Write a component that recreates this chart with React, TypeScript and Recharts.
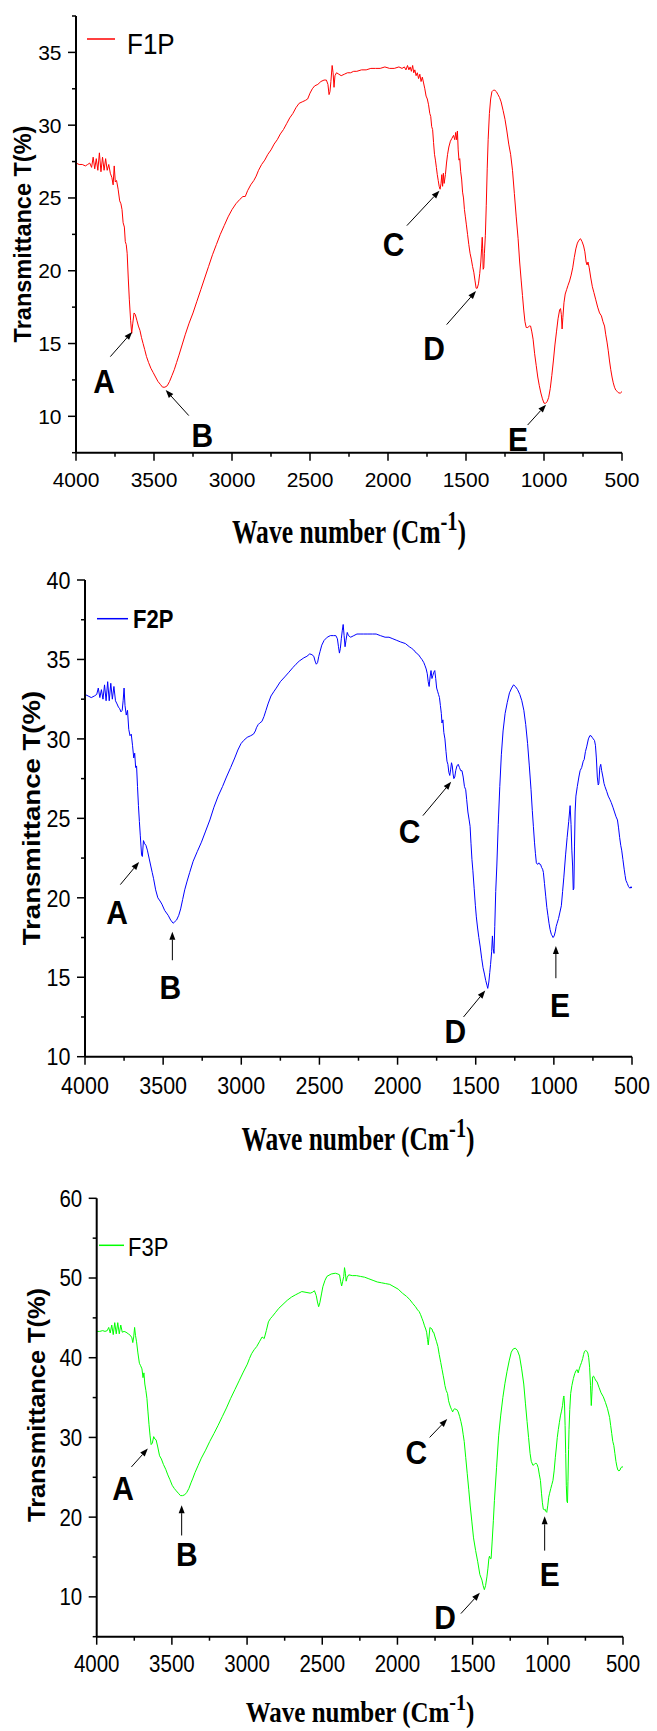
import { LineChart, Line, XAxis, YAxis, Legend, ReferenceLine, ReferenceDot } from 'recharts';

const SANS = '"Liberation Sans", Arial, sans-serif';
const SERIF = '"Liberation Serif", "Times New Roman", serif';

// wave number ticks (major every 500, minor in between)
const waveTicks = [500, 750, 1000, 1250, 1500, 1750, 2000, 2250, 2500, 2750, 3000, 3250, 3500, 3750, 4000];

const f1pTicks = [7.5, 10, 12.5, 15, 17.5, 20, 22.5, 25, 27.5, 30, 32.5, 35, 37.5];
const f2pTicks = [10, 12.5, 15, 17.5, 20, 22.5, 25, 27.5, 30, 32.5, 35, 37.5, 40];
const f3pTicks = [5, 10, 15, 20, 25, 30, 35, 40, 45, 50, 55, 60];

const peakLetters = ['A', 'B', 'C', 'D', 'E'];

// [wave number, transmittance]
const f1pPoints = [
  [4000, 27.4], [3980, 27.3], [3960, 27.3], [3940, 27.2], [3925, 27.3], [3912, 27.4], [3900, 27.1],
  [3890, 27.8], [3880, 27.0], [3870, 27.7], [3860, 26.9], [3850, 28.1], [3840, 26.8], [3830, 27.8],
  [3820, 26.9], [3810, 27.7], [3800, 26.9], [3790, 27.3], [3780, 26.7], [3770, 26.4], [3762, 25.9],
  [3755, 27.2], [3748, 26.1], [3740, 26.2], [3730, 25.6], [3720, 24.8],
  [3712, 24.6], [3705, 24.2], [3698, 23.3], [3690, 23.0], [3684, 22.0], [3678, 21.8], [3672, 21.2],
  [3665, 19.5], [3658, 18.0], [3650, 16.6], [3643, 15.7], [3636, 16.4], [3628, 17.1], [3620, 17.0],
  [3610, 16.6], [3600, 16.2], [3590, 15.9], [3580, 15.4], [3570, 15.0], [3560, 14.6], [3548, 14.1],
  [3535, 13.7], [3520, 13.3], [3505, 13.0], [3490, 12.7], [3475, 12.4], [3460, 12.2], [3445, 12.0],
  [3430, 12.0], [3415, 12.1], [3400, 12.4], [3385, 12.8], [3370, 13.2], [3355, 13.7], [3340, 14.2],
  [3320, 14.9], [3300, 15.6], [3275, 16.4], [3250, 17.1], [3225, 17.9], [3200, 18.7], [3175, 19.5],
  [3150, 20.3], [3125, 21.1], [3100, 21.8], [3075, 22.5], [3050, 23.1], [3025, 23.7], [3000, 24.2],
  [2975, 24.6], [2950, 24.9], [2930, 25.1], [2915, 25.1], [2900, 25.5], [2880, 25.9], [2860, 26.2],
  [2845, 26.5], [2830, 26.9], [2810, 27.3], [2790, 27.6], [2770, 28.0], [2750, 28.3], [2730, 28.7],
  [2710, 29.0], [2690, 29.4], [2670, 29.7], [2650, 30.1], [2630, 30.5], [2610, 30.8], [2590, 31.2],
  [2570, 31.5], [2550, 31.6], [2530, 31.7], [2515, 31.8], [2500, 32.2], [2485, 32.5], [2470, 32.7],
  [2450, 32.8], [2430, 33.0], [2410, 33.1], [2395, 33.1], [2385, 32.8], [2378, 32.1], [2372, 32.3],
  [2366, 33.0], [2358, 34.1], [2352, 33.6], [2346, 32.6], [2340, 33.4], [2330, 33.6], [2315, 33.5],
  [2300, 33.4], [2280, 33.5], [2260, 33.6], [2240, 33.6], [2220, 33.7], [2200, 33.7], [2170, 33.8],
  [2140, 33.8], [2110, 33.9], [2080, 33.9], [2050, 33.9], [2020, 34.0], [1990, 33.9], [1960, 33.9],
  [1930, 34.0], [1910, 33.9], [1895, 34.0], [1885, 33.8], [1875, 34.1], [1866, 33.8], [1858, 34.0],
  [1850, 33.7], [1842, 34.1], [1835, 33.6], [1828, 33.8], [1820, 33.4], [1812, 33.6], [1804, 33.2],
  [1796, 33.5], [1788, 33.0], [1780, 33.3], [1772, 32.9], [1764, 32.5], [1756, 32.0], [1748, 31.8],
  [1740, 31.4], [1732, 30.8], [1726, 30.6], [1720, 29.9], [1714, 29.7], [1708, 28.8], [1702, 28.0],
  [1696, 27.6], [1690, 27.1], [1684, 26.6], [1678, 26.2], [1672, 25.8], [1666, 25.6], [1660, 26.0],
  [1655, 26.6], [1650, 25.8], [1645, 26.7], [1640, 26.0], [1632, 26.6], [1625, 27.4], [1618, 28.0],
  [1610, 28.5], [1600, 28.9], [1590, 29.1], [1580, 29.3], [1572, 29.0], [1566, 29.5], [1560, 29.0],
  [1555, 29.6], [1550, 28.3], [1545, 27.6], [1540, 27.7], [1534, 26.8], [1528, 26.3], [1522, 25.4],
  [1516, 25.0], [1510, 24.2], [1504, 23.7], [1498, 23.2], [1490, 22.5], [1482, 21.8], [1474, 21.2],
  [1466, 20.8], [1458, 20.3], [1450, 19.9], [1442, 19.3], [1435, 18.8], [1428, 18.8], [1420, 19.1],
  [1412, 19.8], [1405, 20.6], [1400, 21.5], [1396, 22.3], [1393, 21.5], [1390, 20.1], [1386, 20.2],
  [1382, 21.2], [1376, 22.4], [1370, 24.5], [1364, 27.0], [1358, 29.0], [1350, 30.8], [1342, 31.8],
  [1334, 32.3], [1325, 32.4], [1315, 32.4], [1305, 32.3], [1295, 32.1], [1285, 31.9], [1275, 31.6],
  [1262, 31.0], [1250, 30.4], [1238, 29.6], [1226, 28.7], [1214, 28.0], [1202, 26.9], [1190, 25.3],
  [1178, 23.7], [1166, 22.2], [1156, 20.6], [1146, 19.3], [1138, 18.3], [1130, 17.3], [1122, 16.5],
  [1114, 16.1], [1104, 16.1], [1094, 16.2], [1086, 16.2], [1078, 15.8], [1070, 15.3], [1060, 14.3],
  [1050, 13.5], [1040, 12.7], [1030, 12.1], [1020, 11.6], [1010, 11.2], [1000, 10.9], [990, 10.9],
  [980, 11.0], [970, 11.3], [960, 11.9], [950, 12.8], [940, 13.8], [930, 14.9], [920, 15.8],
  [910, 16.7], [900, 17.3], [894, 17.4], [889, 17.0], [884, 16.0], [879, 16.8], [872, 17.8],
  [864, 18.4], [855, 18.7], [846, 19.0], [836, 19.3], [826, 19.7], [816, 20.2], [806, 20.9],
  [796, 21.5], [786, 21.9], [776, 22.1], [766, 22.2], [756, 22.0], [746, 21.7], [738, 21.3],
  [730, 20.6], [724, 20.4], [718, 20.6], [710, 20.2], [700, 19.5], [690, 18.9], [680, 18.5],
  [668, 18.0], [656, 17.5], [644, 17.1], [632, 16.9], [622, 16.5], [612, 16.2], [604, 15.6],
  [596, 15.1], [588, 14.5], [580, 13.8], [572, 13.2], [564, 12.7], [556, 12.3], [548, 12.0],
  [540, 11.8], [530, 11.7], [520, 11.6], [510, 11.6], [500, 11.7],
];

const f2pPoints = [
  [4000, 32.8], [3980, 32.7], [3960, 32.6], [3940, 32.7], [3925, 32.8], [3915, 33.2], [3905, 32.6],
  [3895, 33.1], [3885, 32.5], [3875, 33.4], [3865, 32.4], [3855, 33.6], [3845, 32.4], [3835, 33.5],
  [3825, 32.5], [3815, 33.3], [3805, 32.4], [3795, 32.2], [3786, 32.0], [3778, 31.9], [3770, 31.7],
  [3762, 31.8], [3756, 32.4], [3750, 33.2], [3744, 32.1], [3736, 31.5], [3728, 31.8], [3720, 30.6],
  [3712, 30.2], [3704, 30.3], [3696, 29.6], [3688, 28.8], [3682, 29.1], [3676, 28.2], [3670, 28.3],
  [3664, 27.0], [3658, 25.8], [3652, 24.8], [3646, 23.9], [3638, 22.7], [3633, 22.6], [3626, 23.6],
  [3618, 23.4], [3610, 23.3], [3601, 23.0], [3590, 22.5], [3579, 22.0], [3570, 21.6], [3561, 21.2],
  [3548, 20.5], [3534, 20.0], [3520, 19.8], [3508, 19.6], [3490, 19.2], [3468, 18.9], [3452, 18.6],
  [3436, 18.4], [3425, 18.5], [3414, 18.6], [3400, 18.9], [3388, 19.3], [3375, 19.9], [3362, 20.5],
  [3348, 21.0], [3330, 21.6], [3308, 22.3], [3282, 22.9], [3255, 23.5], [3228, 24.2], [3201, 24.9],
  [3175, 25.7], [3148, 26.4], [3120, 27.0], [3095, 27.6], [3068, 28.2], [3042, 28.8], [3022, 29.3],
  [3002, 29.7], [2985, 29.9], [2962, 30.1], [2940, 30.2], [2922, 30.3], [2910, 30.5], [2903, 30.7],
  [2892, 30.9], [2882, 31.0], [2868, 31.1], [2855, 31.4], [2842, 31.8], [2829, 32.2], [2810, 32.7],
  [2790, 33.0], [2776, 33.2], [2750, 33.6], [2722, 33.9], [2695, 34.2], [2669, 34.5], [2650, 34.7],
  [2629, 34.9], [2600, 35.1], [2580, 35.2], [2562, 35.35], [2548, 35.3], [2536, 35.2], [2528, 34.9],
  [2520, 34.7], [2512, 34.8], [2504, 35.2], [2496, 35.5], [2485, 35.9], [2470, 36.2], [2450, 36.4],
  [2430, 36.5], [2410, 36.5], [2395, 36.5], [2385, 36.3], [2378, 35.8], [2372, 35.4], [2366, 35.7],
  [2360, 36.3], [2354, 36.8], [2348, 37.2], [2342, 36.5], [2336, 35.8], [2330, 36.2], [2322, 36.7],
  [2314, 36.5], [2300, 36.4], [2280, 36.5], [2260, 36.6], [2240, 36.6], [2217, 36.6], [2190, 36.6],
  [2160, 36.6], [2137, 36.6], [2110, 36.5], [2080, 36.4], [2055, 36.4], [2030, 36.3], [2005, 36.2],
  [1980, 36.1], [1950, 36.0], [1925, 35.8], [1910, 35.7], [1897, 35.6], [1880, 35.4], [1866, 35.3],
  [1852, 35.1], [1844, 35.0], [1832, 34.8], [1824, 34.6], [1817, 34.4], [1810, 34.1], [1804, 33.6],
  [1798, 33.3], [1792, 33.9], [1786, 34.3], [1780, 33.8], [1774, 34.0], [1768, 34.2], [1762, 34.3],
  [1756, 33.8], [1750, 33.2], [1744, 33.0], [1738, 32.8], [1732, 32.6], [1726, 32.1], [1720, 31.6],
  [1716, 31.0], [1710, 31.2], [1704, 30.4], [1697, 30.0], [1690, 29.2], [1684, 28.6], [1678, 28.4],
  [1672, 27.9], [1666, 27.7], [1660, 28.1], [1655, 28.5], [1650, 28.3], [1645, 27.8], [1640, 27.5],
  [1634, 27.6], [1628, 28.0], [1620, 28.3], [1612, 28.4], [1604, 28.2], [1596, 28.0], [1588, 28.0],
  [1580, 27.6], [1572, 27.0], [1564, 26.8], [1558, 26.2], [1550, 25.4], [1542, 24.9], [1536, 24.5],
  [1530, 23.4], [1524, 22.4], [1518, 21.7], [1510, 20.6], [1502, 19.5], [1496, 18.8], [1488, 18.1],
  [1480, 17.5], [1471, 16.9], [1462, 16.2], [1453, 15.6], [1444, 15.2], [1436, 14.8], [1428, 14.5],
  [1423, 14.3], [1416, 14.7], [1410, 15.3], [1405, 15.8], [1398, 16.6], [1393, 17.6], [1388, 16.8],
  [1383, 16.5], [1378, 18.2], [1372, 20.4], [1365, 22.0], [1356, 24.6], [1346, 27.0], [1336, 29.0],
  [1325, 30.5], [1312, 31.6], [1298, 32.3], [1284, 32.9], [1270, 33.2], [1258, 33.4], [1246, 33.3],
  [1232, 33.1], [1218, 32.8], [1205, 32.4], [1192, 31.8], [1180, 30.9], [1168, 29.7], [1157, 28.3],
  [1146, 26.8], [1138, 25.5], [1131, 24.5], [1124, 23.5], [1118, 22.8], [1112, 22.2], [1104, 22.1],
  [1096, 22.2], [1090, 22.1], [1085, 22.1], [1078, 21.9], [1072, 21.8], [1067, 21.6], [1060, 20.9],
  [1052, 20.1], [1045, 19.4], [1038, 18.9], [1031, 18.4], [1024, 18.0], [1016, 17.7], [1010, 17.6],
  [1005, 17.5], [998, 17.6], [990, 17.9], [985, 18.2], [979, 18.4], [970, 18.7], [961, 19.1],
  [952, 19.5], [944, 20.4], [936, 21.3], [925, 22.7], [915, 23.8], [905, 24.8], [896, 25.8],
  [890, 24.6], [885, 23.0], [880, 22.0], [876, 20.5], [872, 20.6], [868, 23.2], [864, 25.4],
  [859, 26.4], [850, 27.0], [840, 27.6], [832, 28.0], [822, 28.2], [812, 28.6], [806, 28.7],
  [798, 29.2], [790, 29.5], [779, 30.0], [770, 30.2], [762, 30.2], [755, 30.1], [748, 30.0],
  [740, 29.9], [734, 29.6], [728, 28.8], [722, 27.6], [716, 27.1], [712, 27.2], [706, 28.2],
  [700, 28.4], [694, 28.0], [686, 27.6], [679, 27.2], [673, 27.0], [662, 26.7], [652, 26.4],
  [642, 26.2], [633, 26.0], [622, 25.7], [612, 25.4], [602, 25.1], [593, 24.9], [586, 24.4],
  [579, 23.8], [572, 23.3], [566, 23.0], [558, 22.4], [550, 21.8], [544, 21.4], [539, 21.1],
  [530, 20.9], [522, 20.7], [513, 20.6], [506, 20.7], [500, 20.6],
];

const f3pPoints = [
  [4000, 43.3], [3980, 43.3], [3960, 43.4], [3945, 43.3], [3930, 43.4], [3920, 43.8], [3910, 43.1],
  [3900, 44.1], [3890, 42.9], [3880, 44.4], [3870, 43.0], [3860, 44.4], [3850, 43.0], [3840, 44.1],
  [3830, 43.2], [3818, 43.3], [3805, 43.2], [3790, 43.0], [3776, 42.8], [3766, 42.5], [3760, 41.9],
  [3754, 42.6], [3748, 43.8], [3742, 42.8], [3735, 42.0], [3726, 40.6], [3716, 39.3], [3708, 39.0],
  [3699, 38.6], [3692, 37.5], [3686, 38.1], [3680, 36.7], [3673, 35.9], [3666, 34.9], [3659, 33.2],
  [3652, 31.6], [3645, 30.2], [3638, 29.1], [3630, 29.3], [3621, 30.1], [3613, 29.8], [3605, 29.7],
  [3594, 28.8], [3582, 27.7], [3570, 27.3], [3556, 26.6], [3541, 26.0], [3527, 25.3], [3513, 24.7],
  [3498, 24.0], [3484, 23.6], [3471, 23.3], [3457, 23.0], [3443, 22.7], [3429, 22.7], [3415, 22.8],
  [3401, 23.1], [3387, 23.6], [3373, 24.3], [3360, 24.9], [3346, 25.6], [3325, 26.5], [3304, 27.4],
  [3276, 28.4], [3248, 29.5], [3220, 30.5], [3193, 31.5], [3165, 32.6], [3137, 33.7], [3109, 34.9],
  [3081, 36.0], [3053, 37.1], [3025, 38.2], [2998, 39.2], [2984, 39.9], [2970, 40.5], [2953, 41.0],
  [2936, 41.4], [2918, 42.0], [2900, 42.6], [2893, 42.5], [2886, 42.4], [2872, 43.4], [2858, 44.5],
  [2845, 44.9], [2831, 45.2], [2810, 45.7], [2789, 46.2], [2761, 46.7], [2733, 47.2], [2705, 47.6],
  [2677, 47.9], [2656, 48.1], [2636, 48.3], [2608, 48.2], [2580, 48.1], [2566, 48.2], [2552, 48.4],
  [2540, 47.8], [2532, 47.0], [2524, 46.4], [2516, 46.9], [2505, 48.0], [2496, 48.9], [2482, 49.7],
  [2469, 50.2], [2441, 50.5], [2413, 50.6], [2396, 50.5], [2385, 50.4], [2378, 49.6], [2371, 49.0],
  [2364, 49.6], [2357, 50.2], [2352, 51.3], [2346, 50.6], [2341, 49.6], [2334, 50.1], [2324, 50.4],
  [2300, 50.3], [2273, 50.3], [2246, 50.2], [2218, 50.1], [2190, 49.9], [2162, 49.7], [2134, 49.5],
  [2106, 49.4], [2079, 49.3], [2051, 49.2], [2023, 48.9], [1995, 48.6], [1967, 48.1], [1940, 47.7],
  [1918, 47.3], [1898, 46.8], [1880, 46.4], [1866, 46.0], [1856, 45.8], [1846, 45.4], [1836, 44.9],
  [1828, 44.5], [1820, 44.0], [1812, 43.6], [1806, 43.2], [1800, 42.3], [1795, 41.6], [1790, 42.6],
  [1784, 43.8], [1778, 43.7], [1770, 43.6], [1764, 43.2], [1759, 43.2], [1750, 42.6], [1740, 42.0],
  [1731, 41.4], [1722, 40.4], [1712, 39.4], [1703, 38.5], [1696, 37.8], [1690, 37.2], [1684, 36.5],
  [1676, 35.9], [1667, 35.5], [1660, 34.6], [1654, 34.2], [1647, 33.8], [1640, 33.5], [1633, 33.2],
  [1626, 33.5], [1618, 33.6], [1610, 33.5], [1605, 33.5], [1596, 33.2], [1586, 32.6], [1578, 32.0],
  [1570, 31.3], [1563, 30.4], [1556, 29.5], [1546, 27.5], [1536, 25.5], [1526, 23.5], [1516, 21.4],
  [1505, 19.4], [1494, 17.4], [1480, 15.8], [1466, 14.4], [1452, 12.8], [1438, 12.1], [1430, 11.4],
  [1422, 10.9], [1414, 11.4], [1405, 12.5], [1398, 13.6], [1392, 14.8], [1388, 15.1], [1383, 14.8],
  [1377, 14.8], [1370, 17.0], [1362, 19.6], [1355, 22.1], [1341, 26.2], [1327, 30.2], [1313, 32.8],
  [1299, 35.0], [1285, 36.8], [1271, 38.3], [1257, 39.6], [1243, 40.7], [1230, 41.1], [1216, 41.2],
  [1202, 40.9], [1188, 40.2], [1174, 38.6], [1160, 36.7], [1149, 34.3], [1138, 32.0], [1128, 30.0],
  [1118, 28.0], [1110, 27.0], [1099, 26.5], [1090, 26.6], [1080, 26.8], [1071, 26.6], [1064, 26.2],
  [1056, 25.3], [1049, 24.6], [1042, 23.0], [1036, 21.8], [1030, 21.0], [1024, 20.9], [1018, 21.0],
  [1012, 20.7], [1007, 20.6], [1000, 21.5], [994, 22.5], [988, 23.0], [980, 23.6], [973, 24.1],
  [966, 24.6], [958, 25.8], [950, 27.5], [943, 28.8], [937, 30.0], [930, 31.0], [923, 31.9],
  [916, 32.7], [909, 33.3], [902, 34.0], [896, 35.0], [893, 35.2], [889, 34.2], [885, 31.5],
  [881, 28.0], [877, 24.0], [873, 22.0], [869, 21.8], [866, 24.5], [862, 28.5], [859, 31.0],
  [854, 33.5], [848, 35.5], [840, 36.5], [830, 37.4], [821, 38.0], [812, 38.4], [805, 38.5],
  [798, 38.1], [791, 38.6], [784, 39.0], [776, 39.4], [768, 39.9], [762, 40.4], [756, 40.8],
  [748, 40.9], [740, 40.8], [734, 40.6], [728, 40.0], [722, 38.8], [716, 36.5], [711, 34.0],
  [706, 35.8], [702, 37.6], [696, 37.7], [688, 37.4], [680, 37.1], [673, 37.0], [660, 36.3],
  [646, 35.6], [631, 35.1], [617, 34.4], [603, 33.6], [589, 32.5], [582, 31.5], [575, 30.5],
  [568, 29.5], [561, 29.0], [554, 28.0], [547, 27.0], [540, 26.3], [534, 25.9], [527, 25.8],
  [520, 25.9], [514, 26.2], [507, 26.3], [500, 26.3],
];

// peak annotations: letter position, arrow tail, arrow tip  [wave number, T]
const f1pLetterAt = [[3820, 12.4], [3191, 8.7], [1965, 21.8], [1704, 14.7], [1167, 8.45]];
const f1pArrowTail = [[3780, 14.1], [3277, 10.05], [1879, 23.1], [1624, 16.3], [1105, 9.4]];
const f1pArrowTip = [[3640, 15.8], [3425, 11.8], [1670, 25.5], [1436, 18.6], [987, 10.8]];

const f2pLetterAt = [[3795, 19.1], [3454, 14.4], [1924, 24.2], [1631, 11.6], [960, 13.26]];
const f2pArrowTail = [[3774, 20.83], [3441, 16.07], [1838, 25.17], [1578, 12.5], [987, 14.94]];
const f2pArrowTip = [[3654, 22.25], [3441, 17.87], [1657, 27.3], [1439, 14.16], [987, 16.97]];

const f3pLetterAt = [[3825, 23.6], [3401, 15.35], [1875, 28.1], [1683, 7.4], [987, 12.8]];
const f3pArrowTail = [[3769, 26.3], [3435, 17.7], [1786, 30.0], [1578, 7.9], [1021, 15.8]];
const f3pArrowTip = [[3660, 28.6], [3435, 21.5], [1669, 32.3], [1452, 10.5], [1021, 20.1]];

const toRows = (pts: number[][]) => pts.map(([w, t]) => ({ w, t }));

function StretchText({ x, y, sy, children, ...rest }: any) {
  return (
    <g transform={`translate(${x},${y}) scale(1,${sy})`}>
      <text x={0} y={0} fill="#000" {...rest}>
        {children}
      </text>
    </g>
  );
}

function arrowShape(p: any) {
  const { x1, y1, x2, y2 } = p;
  const a = Math.atan2(y2 - y1, x2 - x1);
  const len = 8;
  const half = 3;
  const bx = x2 - len * Math.cos(a);
  const by = y2 - len * Math.sin(a);
  const pts = `${x2},${y2} ${bx - half * Math.sin(a)},${by + half * Math.cos(a)} ${bx + half * Math.sin(a)},${by - half * Math.cos(a)}`;
  return (
    <g>
      <line x1={x1} y1={y1} x2={bx} y2={by} stroke="#000" strokeWidth={1} />
      <polygon points={pts} fill="#000" />
    </g>
  );
}

function SpectrumPanel({ cfg }: { cfg: any }) {
  const t = cfg.tick;
  const capX = 0.716 * t.fs * t.sy;

  const xTick = (p: any) => {
    const v = p.payload.value;
    const major = v % 500 === 0;
    return (
      <g>
        <line x1={p.x} y1={p.y} x2={p.x} y2={p.y + (major ? 8 : 4)} stroke="#000" strokeWidth={1.5} />
        {major && (
          <StretchText x={p.x} y={p.y + t.gap + capX} sy={t.sy} textAnchor="middle" fontFamily={SANS} fontSize={t.fs}>
            {v}
          </StretchText>
        )}
      </g>
    );
  };

  const yTick = (p: any) => {
    const v = p.payload.value;
    const major = v % cfg.yMajor === 0;
    return (
      <g>
        <line x1={p.x - (major ? 8 : 4)} y1={p.y} x2={p.x} y2={p.y} stroke="#000" strokeWidth={1.5} />
        {major && (
          <StretchText x={p.x - 14.5} y={p.y + capX / 2} sy={t.sy} textAnchor="end" fontFamily={SANS} fontSize={t.fs}>
            {v}
          </StretchText>
        )}
      </g>
    );
  };

  const yTitle = () => (
    <g transform={`translate(${cfg.yTitle.x},${cfg.yTitle.y}) rotate(-90) scale(${cfg.yTitle.sx},1)`}>
      <text x={0} y={0} textAnchor="middle" dominantBaseline="central" fontFamily={SANS} fontWeight="bold" fontSize={cfg.yTitle.fs} fill="#000">
        Transmittance T(%)
      </text>
    </g>
  );

  const xt = cfg.xTitle;
  const xTitle = () => (
    <g transform={`translate(${xt.x},${xt.y}) scale(1,${xt.sy})`}>
      <text x={0} y={0} textAnchor="middle" fontFamily={SERIF} fontWeight="bold" fontSize={xt.fs} fill="#000">
        Wave number (Cm
        <tspan fontSize={xt.fs * 0.8} dy={-10}>
          -1
        </tspan>
        <tspan dy={10}>)</tspan>
      </text>
    </g>
  );

  const lg = cfg.legend;
  const legendContent = () => (
    <svg width={220} height={130} style={{ display: 'block' }}>
      <line x1={lg.x1} y1={lg.ly} x2={lg.x2} y2={lg.ly} stroke={cfg.color} strokeWidth={1.5} />
      <StretchText x={lg.tx} y={lg.ty} sy={lg.sy} fontFamily={SANS} fontSize={lg.fs} fontWeight={lg.bold ? 'bold' : 'normal'}>
        {cfg.name}
      </StretchText>
    </svg>
  );

  return (
    <LineChart width={657} height={cfg.height} data={toRows(cfg.points)} margin={cfg.margin}>
      <XAxis
        dataKey="w"
        type="number"
        domain={[500, 4000]}
        reversed
        ticks={waveTicks}
        interval={0}
        allowDataOverflow
        height={40}
        tickSize={0}
        tickMargin={0}
        tickLine={false}
        axisLine={{ stroke: '#000', strokeWidth: 2 }}
        tick={xTick}
        label={xTitle}
      />
      <YAxis
        type="number"
        domain={cfg.yDomain}
        ticks={cfg.yTicks}
        interval={0}
        allowDataOverflow
        width={60}
        tickSize={0}
        tickMargin={0}
        tickLine={false}
        axisLine={{ stroke: '#000', strokeWidth: 2 }}
        tick={yTick}
        label={yTitle}
      />
      <Legend
        layout="horizontal"
        verticalAlign="middle"
        align="center"
        content={legendContent}
        wrapperStyle={{ left: 0, top: 0, width: 220, height: 130 }}
      />
      <Line
        dataKey="t"
        name={cfg.name}
        type="linear"
        stroke={cfg.color}
        strokeWidth={1}
        dot={false}
        activeDot={false}
        isAnimationActive={false}
      />
      {peakLetters.map((letter, i) => (
        <ReferenceLine
          key={`arrow-${letter}`}
          segment={[
            { x: cfg.tails[i][0], y: cfg.tails[i][1] },
            { x: cfg.tips[i][0], y: cfg.tips[i][1] },
          ]}
          ifOverflow="visible"
          shape={arrowShape}
        />
      ))}
      {peakLetters.map((letter, i) => (
        <ReferenceDot
          key={`letter-${letter}`}
          x={cfg.letters[i][0]}
          y={cfg.letters[i][1]}
          r={1}
          ifOverflow="visible"
          shape={(p: any) => (
            <StretchText x={p.cx} y={p.cy + 11.8} sy={1.1} textAnchor="middle" fontFamily={SANS} fontWeight="bold" fontSize={30}>
              {letter}
            </StretchText>
          )}
        />
      ))}
    </LineChart>
  );
}

const panels = [
  {
    top: 0,
    height: 560,
    margin: { top: 16, right: 35, left: 16, bottom: 67.3 },
    points: f1pPoints,
    name: 'F1P',
    color: '#ff0000',
    yDomain: [7.5, 37.5],
    yTicks: f1pTicks,
    yMajor: 5,
    tick: { fs: 21, sy: 1.0, gap: 19 },
    yTitle: { x: 22.6, y: 234, fs: 23.5, sx: 1 },
    xTitle: { x: 349, y: 543, fs: 25.6, sy: 1.35 },
    legend: { x1: 87, x2: 115, ly: 39, tx: 127, ty: 54, fs: 26, sy: 1.1, bold: false },
    letters: f1pLetterAt,
    tails: f1pArrowTail,
    tips: f1pArrowTip,
  },
  {
    top: 560,
    height: 605,
    margin: { top: 20, right: 25, left: 25, bottom: 68.3 },
    points: f2pPoints,
    name: 'F2P',
    color: '#0000ff',
    yDomain: [10, 40],
    yTicks: f2pTicks,
    yMajor: 5,
    tick: { fs: 21.5, sy: 1.14, gap: 19.3 },
    yTitle: { x: 31.5, y: 258, fs: 24, sx: 1.15 },
    xTitle: { x: 358, y: 590, fs: 25.5, sy: 1.3 },
    legend: { x1: 97, x2: 128, ly: 58.7, tx: 133, ty: 68.3, fs: 22, sy: 1.17, bold: true },
    letters: f2pLetterAt,
    tails: f2pArrowTail,
    tips: f2pArrowTip,
  },
  {
    top: 1150,
    height: 581,
    margin: { top: 48.3, right: 34, left: 36.7, bottom: 54.3 },
    points: f3pPoints,
    name: 'F3P',
    color: '#00ff00',
    yDomain: [5, 60],
    yTicks: f3pTicks,
    yMajor: 10,
    tick: { fs: 20.5, sy: 1.15, gap: 18.3 },
    yTitle: { x: 36.6, y: 255, fs: 23.5, sx: 1.08 },
    xTitle: { x: 360, y: 572, fs: 25, sy: 1.2 },
    legend: { x1: 99, x2: 124, ly: 95.3, tx: 128, ty: 106, fs: 22, sy: 1.13, bold: false },
    letters: f3pLetterAt,
    tails: f3pArrowTail,
    tips: f3pArrowTip,
  },
];

export default function App() {
  return (
    <div style={{ position: 'absolute', left: 0, top: 0, width: 657, height: 1731, background: '#fff' }}>
      {panels.map((cfg) => (
        <div key={cfg.name} style={{ position: 'absolute', left: 0, top: cfg.top }}>
          <SpectrumPanel cfg={cfg} />
        </div>
      ))}
    </div>
  );
}
